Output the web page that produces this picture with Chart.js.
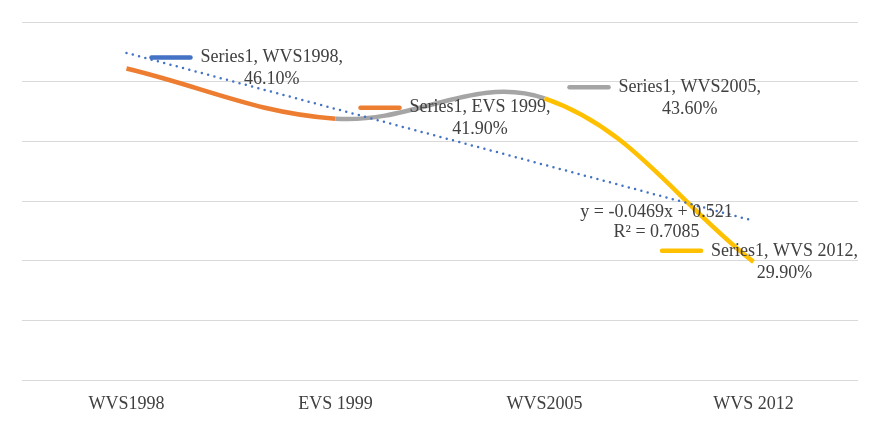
<!DOCTYPE html>
<html><head><meta charset="utf-8">
<script src="https://cdn.jsdelivr.net/npm/chart.js@4"></script>
<style>html,body{margin:0;padding:0;background:#fff}</style>
</head><body>
<canvas id="c" width="879" height="427"></canvas>
<script>
const categories = ['WVS1998', 'EVS 1999', 'WVS2005', 'WVS 2012'];
const seriesName = 'Series1';
const values = [46.1, 41.9, 43.6, 29.9];
const pointColors = ['#4472C4', '#ED7D31', '#A5A5A5', '#FFC000'];
const yMin = 20, yMax = 50, yStep = 5;

// linear trendline (least squares over x = 1..n)
const n = values.length;
const xs = values.map((_, i) => i + 1);
const mx = xs.reduce((a, b) => a + b, 0) / n;
const my = values.reduce((a, b) => a + b, 0) / n;
let sxy = 0, sxx = 0, syy = 0;
for (let i = 0; i < n; i++) { sxy += (xs[i]-mx)*(values[i]-my); sxx += (xs[i]-mx)**2; syy += (values[i]-my)**2; }
const slope = sxy / sxx, intercept = my - slope * mx, r2 = sxy*sxy/(sxx*syy);
const trend = xs.map(x => intercept + slope * x);
const fmt = v => String(parseFloat(v.toFixed(4)));
const eqLine1 = 'y = ' + fmt(slope/100) + 'x + ' + fmt(intercept/100);
const eqLine2 = 'R² = ' + fmt(r2);

const FONT = '"Liberation Serif", "Times New Roman", serif';

const labelPlugin = {
  id: 'labels',
  afterDatasetsDraw(chart) {
    const ctx = chart.ctx;
    const meta = chart.getDatasetMeta(1);
    ctx.save();
    ctx.font = '18px ' + FONT;
    ctx.fillStyle = '#404040';
    ctx.textBaseline = 'middle';
    ctx.textAlign = 'center';
    meta.data.forEach((pt, i) => {
      const l1 = seriesName + ', ' + categories[i] + ',';
      const l2 = values[i].toFixed(2) + '%';
      const w1 = ctx.measureText(l1).width;
      const keyLen = 43, gap = 8;
      let x0 = pt.x + 23;
      const total = keyLen + gap + w1;
      const maxRight = chart.width - 21;
      if (x0 + total > maxRight) x0 = maxRight - total;
      const yA = pt.y - 11, yB = pt.y + 11;
      ctx.strokeStyle = pointColors[i];
      ctx.lineWidth = 4.5;
      ctx.lineCap = 'round';
      ctx.beginPath(); ctx.moveTo(x0 + 2, yA); ctx.lineTo(x0 + keyLen - 2, yA); ctx.stroke();
      const tx = x0 + keyLen + gap;
      ctx.fillText(l1, tx + w1 / 2, yA);
      ctx.fillText(l2, tx + w1 / 2, yB);
    });
    const tm = chart.getDatasetMeta(0);
    const last = tm.data[tm.data.length - 1];
    ctx.fillText(eqLine1, last.x - 97, last.y - 9);
    ctx.fillText(eqLine2, last.x - 97, last.y + 11);
    ctx.restore();
  }
};

new Chart(document.getElementById('c'), {
  type: 'line',
  data: {
    labels: categories,
    datasets: [
      {
        label: 'Linear (' + seriesName + ')',
        data: trend,
        borderColor: '#4472C4',
        borderWidth: 2.5,
        borderDash: [0, 6.5],
        borderCapStyle: 'round',
        pointRadius: 0,
        tension: 0,
        fill: false
      },
      {
        label: seriesName,
        data: values,
        borderColor: pointColors[0],
        borderWidth: 4.5,
        pointRadius: 0,
        tension: 0.38,
        fill: false,
        segment: {
          borderColor: c => pointColors[c.p1DataIndex]
        }
      }
    ]
  },
  options: {
    responsive: false,
    animation: false,
    layout: { padding: { left: 22, right: 21, top: 22, bottom: 0 } },
    plugins: { legend: { display: false }, tooltip: { enabled: false }, title: { display: false } },
    scales: {
      x: {
        offset: true,
        grid: { display: false, drawTicks: false },
        border: { display: false },
        ticks: { color: '#404040', font: { family: FONT, size: 18 }, padding: 13, maxRotation: 0 },
        afterFit: s => { s.height = 47; s.paddingLeft = 0; s.paddingRight = 0; }
      },
      y: {
        min: yMin, max: yMax,
        grid: { color: '#D9D9D9', lineWidth: 1, drawTicks: false },
        border: { display: false },
        ticks: { display: false, stepSize: yStep },
        afterFit: s => { s.width = 0; }
      }
    }
  },
  plugins: [labelPlugin]
});
</script>
</body></html>
